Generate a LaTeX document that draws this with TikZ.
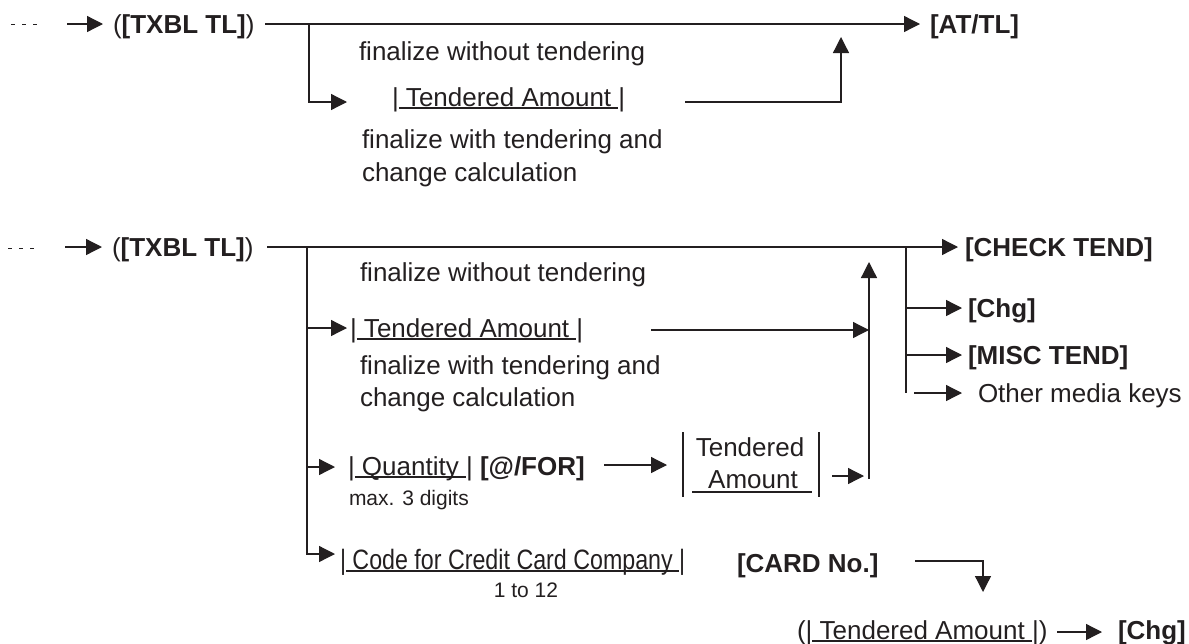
\documentclass[tikz,border=0pt]{standalone}
\usepackage{fontspec}
\setmainfont{Liberation Sans}
\usetikzlibrary{arrows.meta}
\definecolor{ink}{HTML}{231F20}
\newcommand\myul[1]{\setbox0\hbox{#1}\rlap{\rule[-2.6pt]{\wd0}{1.2pt}}\box0}
\tikzset{
  arr/.style={-{Triangle[length=16pt,width=16pt]}},
  dots/.style={line width=1pt,dash pattern=on 4pt off 7pt},
  txt/.style={inner sep=0pt,outer sep=0pt,anchor=base west,text=ink,font=\fontsize{26}{30}\selectfont},
  bld/.style={txt,font=\fontsize{26}{30}\selectfont\bfseries},
  small/.style={txt,font=\fontsize{21}{24}\selectfont},
  cond/.style={txt,font=\fontsize{28}{32}\selectfont},
}
\begin{document}
\begin{tikzpicture}[x=1pt,y=-1pt,line width=1.3pt,draw=ink]
\useasboundingbox (0,0) rectangle (1189,643);
% ---------- section 1 ----------
\coordinate (d1a) at (11,24); \coordinate (d1b) at (37,24);
\draw[dots] (d1a) -- (d1b);
\coordinate (s1a) at (67,24); \coordinate (s1b) at (103,24);
\draw[arr] (s1a) -- (s1b);
\node[txt] (txbl1) at (113,33) {(\textbf{[TXBL TL]})};
\coordinate (m1a) at (265,24); \coordinate (j1) at (309,24); \coordinate (m1b) at (920,24);
\draw[arr] (m1a) -- (m1b);
\node[bld] (atl) at (930,33) {[AT/TL]};
\coordinate (b1) at (347,102);
\draw[arr] (j1) |- (b1);
\node[txt] (fw1) at (359,60) {finalize without tendering};
\node[txt] (ta1) at (392,106) {|\myul{~Tendered Amount~}|};
\coordinate (r1a) at (685,102); \coordinate (r1b) at (841,37);
\draw[arr] (r1a) -| (r1b);
\node[txt] (fc1) at (362,148) {finalize with tendering and};
\node[txt] (fc1b) at (362,181) {change calculation};
% ---------- section 2 ----------
\coordinate (d2a) at (8,248); \coordinate (d2b) at (35,248);
\draw[dots] (d2a) -- (d2b);
\coordinate (s2a) at (65,247); \coordinate (s2b) at (102,247);
\draw[arr] (s2a) -- (s2b);
\node[txt] (txbl2) at (112,256) {(\textbf{[TXBL TL]})};
\coordinate (m2a) at (267,247); \coordinate (j2) at (307,247);
\coordinate (j3) at (906,247); \coordinate (m2b) at (958,247);
\draw[arr] (m2a) -- (m2b);
\node[bld] (ct) at (965,256) {[CHECK TEND]};
\coordinate (j3e) at (906,393);
\draw (j3) -- (j3e);
\coordinate (c1) at (906,308); \coordinate (c1t) at (962,308);
\draw[arr] (c1) -- (c1t);
\node[bld] (chg1) at (968,317) {[Chg]};
\coordinate (c2) at (906,355); \coordinate (c2t) at (962,355);
\draw[arr] (c2) -- (c2t);
\node[bld] (misc) at (968,364) {[MISC TEND]};
\coordinate (c3) at (914,393); \coordinate (c3t) at (962,393);
\draw[arr] (c3) -- (c3t);
\node[txt] (oth) at (978,402) {Other media keys};
% branches from j2
\coordinate (k1) at (307,328); \coordinate (k1t) at (347,328);
\draw[arr] (k1) -- (k1t);
\node[txt] (fw2) at (360,281) {finalize without tendering};
\node[txt] (ta2) at (350,337) {|\myul{~Tendered Amount~}|};
\node[txt] (fc2) at (360,374) {finalize with tendering and};
\node[txt] (fc2b) at (360,406) {change calculation};
\coordinate (l1a) at (651,330); \coordinate (l1b) at (869,330);
\draw[arr] (l1a) -- (l1b);
\coordinate (v1a) at (869,479); \coordinate (v1b) at (869,262);
\draw[arr] (v1a) -- (v1b);
\coordinate (k2) at (307,467); \coordinate (k2t) at (335,467);
\draw[arr] (k2) -- (k2t);
\node[txt] (qty) at (348,475) {|\myul{~Quantity~}| \textbf{[@/FOR]}};
\node[small] (maxd) at (349,505) {max. 3 digits};
\coordinate (f1a) at (604,465); \coordinate (f1b) at (667,465);
\draw[arr] (f1a) -- (f1b);
\coordinate (bl1) at (683,432); \coordinate (bl2) at (683,497);
\coordinate (br1) at (819,432); \coordinate (br2) at (819,497);
\draw (bl1) -- (bl2);
\draw (br1) -- (br2);
\node[txt,anchor=base] (tnd) at (750,456) {Tendered};
\node[txt,anchor=base] (amt) at (753,488) {Amount};
\coordinate (u1) at (692,492); \coordinate (u2) at (812,492);
\draw[line width=1.2pt] (u1) -- (u2);
\coordinate (g1a) at (832,476); \coordinate (g1b) at (864,476);
\draw[arr] (g1a) -- (g1b);
\coordinate (k4t) at (335,554);
\draw[arr] (j2) |- (k4t);
\node[cond] (code) at (340,569) {\scalebox{0.83}[1]{|\myul{~Code for Credit Card Company~}|}};
\node[small,anchor=base] (one) at (526,597) {1 to 12};
\node[bld] (card) at (737,572) {[CARD No.]};
\coordinate (cl1) at (915,561); \coordinate (cl2) at (983,592);
\draw[arr] (cl1) -| (cl2);
\node[txt] (ta3) at (797,639) {(|\myul{~Tendered Amount~}|)};
\coordinate (h1) at (1057,632); \coordinate (h2) at (1102,632);
\draw[arr] (h1) -- (h2);
\node[bld] (chg2) at (1118,639) {[Chg]};
\end{tikzpicture}
\end{document}
